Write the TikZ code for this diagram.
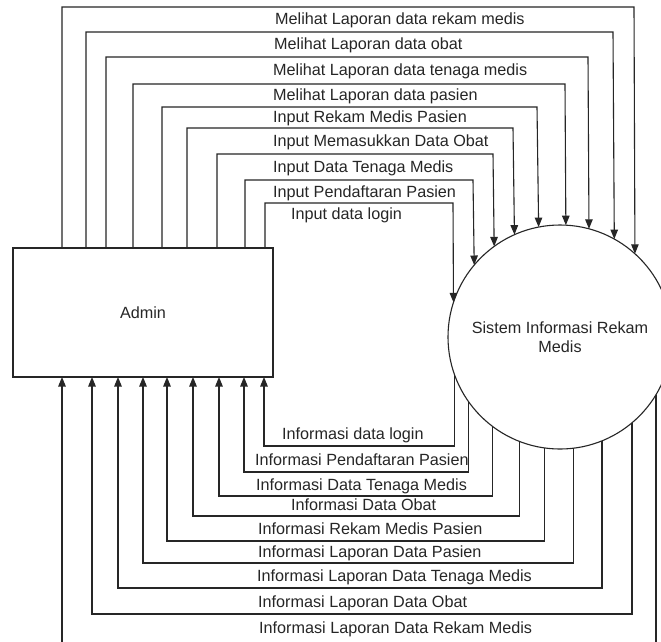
\documentclass[tikz,border=0pt]{standalone}
\usepackage{fontspec}
\setmainfont{Liberation Sans}
\usetikzlibrary{arrows.meta}
\begin{document}
\begin{tikzpicture}[x=1pt,y=-1pt,
  flow/.style={draw=black!85, line width=1.1pt, -{Triangle[length=9.5pt,width=7.5pt]}},
  lbl/.style={anchor=base west, inner sep=0pt, text=black!85, font=\fontsize{16.2}{19}\selectfont},
  ent/.style={draw=black!85, line width=1.1pt, inner sep=0pt, outer sep=0pt, fill=white, text=black!85, font=\fontsize{16.2}{19}\selectfont}]
\clip (0,0) rectangle (661,641);
\fill[white] (0,0) rectangle (661,641);
\node[ent, rectangle, minimum width=260pt, minimum height=129pt] (admin) at (143,312.5) {Admin};
\node[ent, circle, minimum size=224pt, align=center] (sys) at (560,337) {Sistem Informasi Rekam\\Medis};
% input flows (Admin -> Sistem)
\draw[flow] (admin.north -| 62,0)  |- (634,7)   -- (sys.48.64);
\draw[flow] (admin.north -| 86,0)  |- (613,32)  -- (sys.61.76);
\draw[flow] (admin.north -| 106,0) |- (588,57)  -- (sys.75.52);
\draw[flow] (admin.north -| 133,0) |- (565,84)  -- (sys.87.44);
\draw[flow] (admin.north -| 162,0) |- (537,107) -- (sys.101.85);
\draw[flow] (admin.north -| 187,0) |- (513,128) -- (sys.114.81);
\draw[flow] (admin.north -| 217,0) |- (493,154) -- (sys.126.74);
\draw[flow] (admin.north -| 245,0) |- (473,180) -- (sys.140.97);
\draw[flow] (admin.north -| 265,0) |- (453,203) -- (sys.162.80);
% output flows (Sistem -> Admin)
\draw[flow] (sys.200.36) |- (264,446) -- (admin.south -| 264,0);
\draw[flow] (sys.215.66) |- (244,472) -- (admin.south -| 244,0);
\draw[flow] (sys.233.26) |- (219,496) -- (admin.south -| 219,0);
\draw[flow] (sys.249.62) |- (193,516) -- (admin.south -| 193,0);
\draw[flow] (sys.262.82) |- (167,541) -- (admin.south -| 167,0);
\draw[flow] (sys.277.70) |- (143,563) -- (admin.south -| 143,0);
\draw[flow] (sys.292.02) |- (118,588) -- (admin.south -| 118,0);
\draw[flow] (sys.310.00) |- (92,614)  -- (admin.south -| 92,0);
\draw[flow] (sys.329.00) |- (62,646)  -- (admin.south -| 62,0);
% labels top
\node[lbl] (t1) at (275,24)  {Melihat Laporan data rekam medis};
\node[lbl] (t2) at (274,49)  {Melihat Laporan data obat};
\node[lbl] (t3) at (273,75)  {Melihat Laporan data tenaga medis};
\node[lbl] (t4) at (273,100) {Melihat Laporan data pasien};
\node[lbl] (t5) at (273,122) {Input Rekam Medis Pasien};
\node[lbl] (t6) at (273,146) {Input Memasukkan Data Obat};
\node[lbl] (t7) at (273,172) {Input Data Tenaga Medis};
\node[lbl] (t8) at (273,197) {Input Pendaftaran Pasien};
\node[lbl] (t9) at (291,219) {Input data login};
% labels bottom
\node[lbl] (b1) at (282,439) {Informasi data login};
\node[lbl] (b2) at (255,465) {Informasi Pendaftaran Pasien};
\node[lbl] (b3) at (256,490) {Informasi Data Tenaga Medis};
\node[lbl] (b4) at (291,510) {Informasi Data Obat};
\node[lbl] (b5) at (258,534) {Informasi Rekam Medis Pasien};
\node[lbl] (b6) at (258,557) {Informasi Laporan Data Pasien};
\node[lbl] (b7) at (257,581) {Informasi Laporan Data Tenaga Medis};
\node[lbl] (b8) at (258,607) {Informasi Laporan Data Obat};
\node[lbl] (b9) at (259,633) {Informasi Laporan Data Rekam Medis};
\end{tikzpicture}
\end{document}
